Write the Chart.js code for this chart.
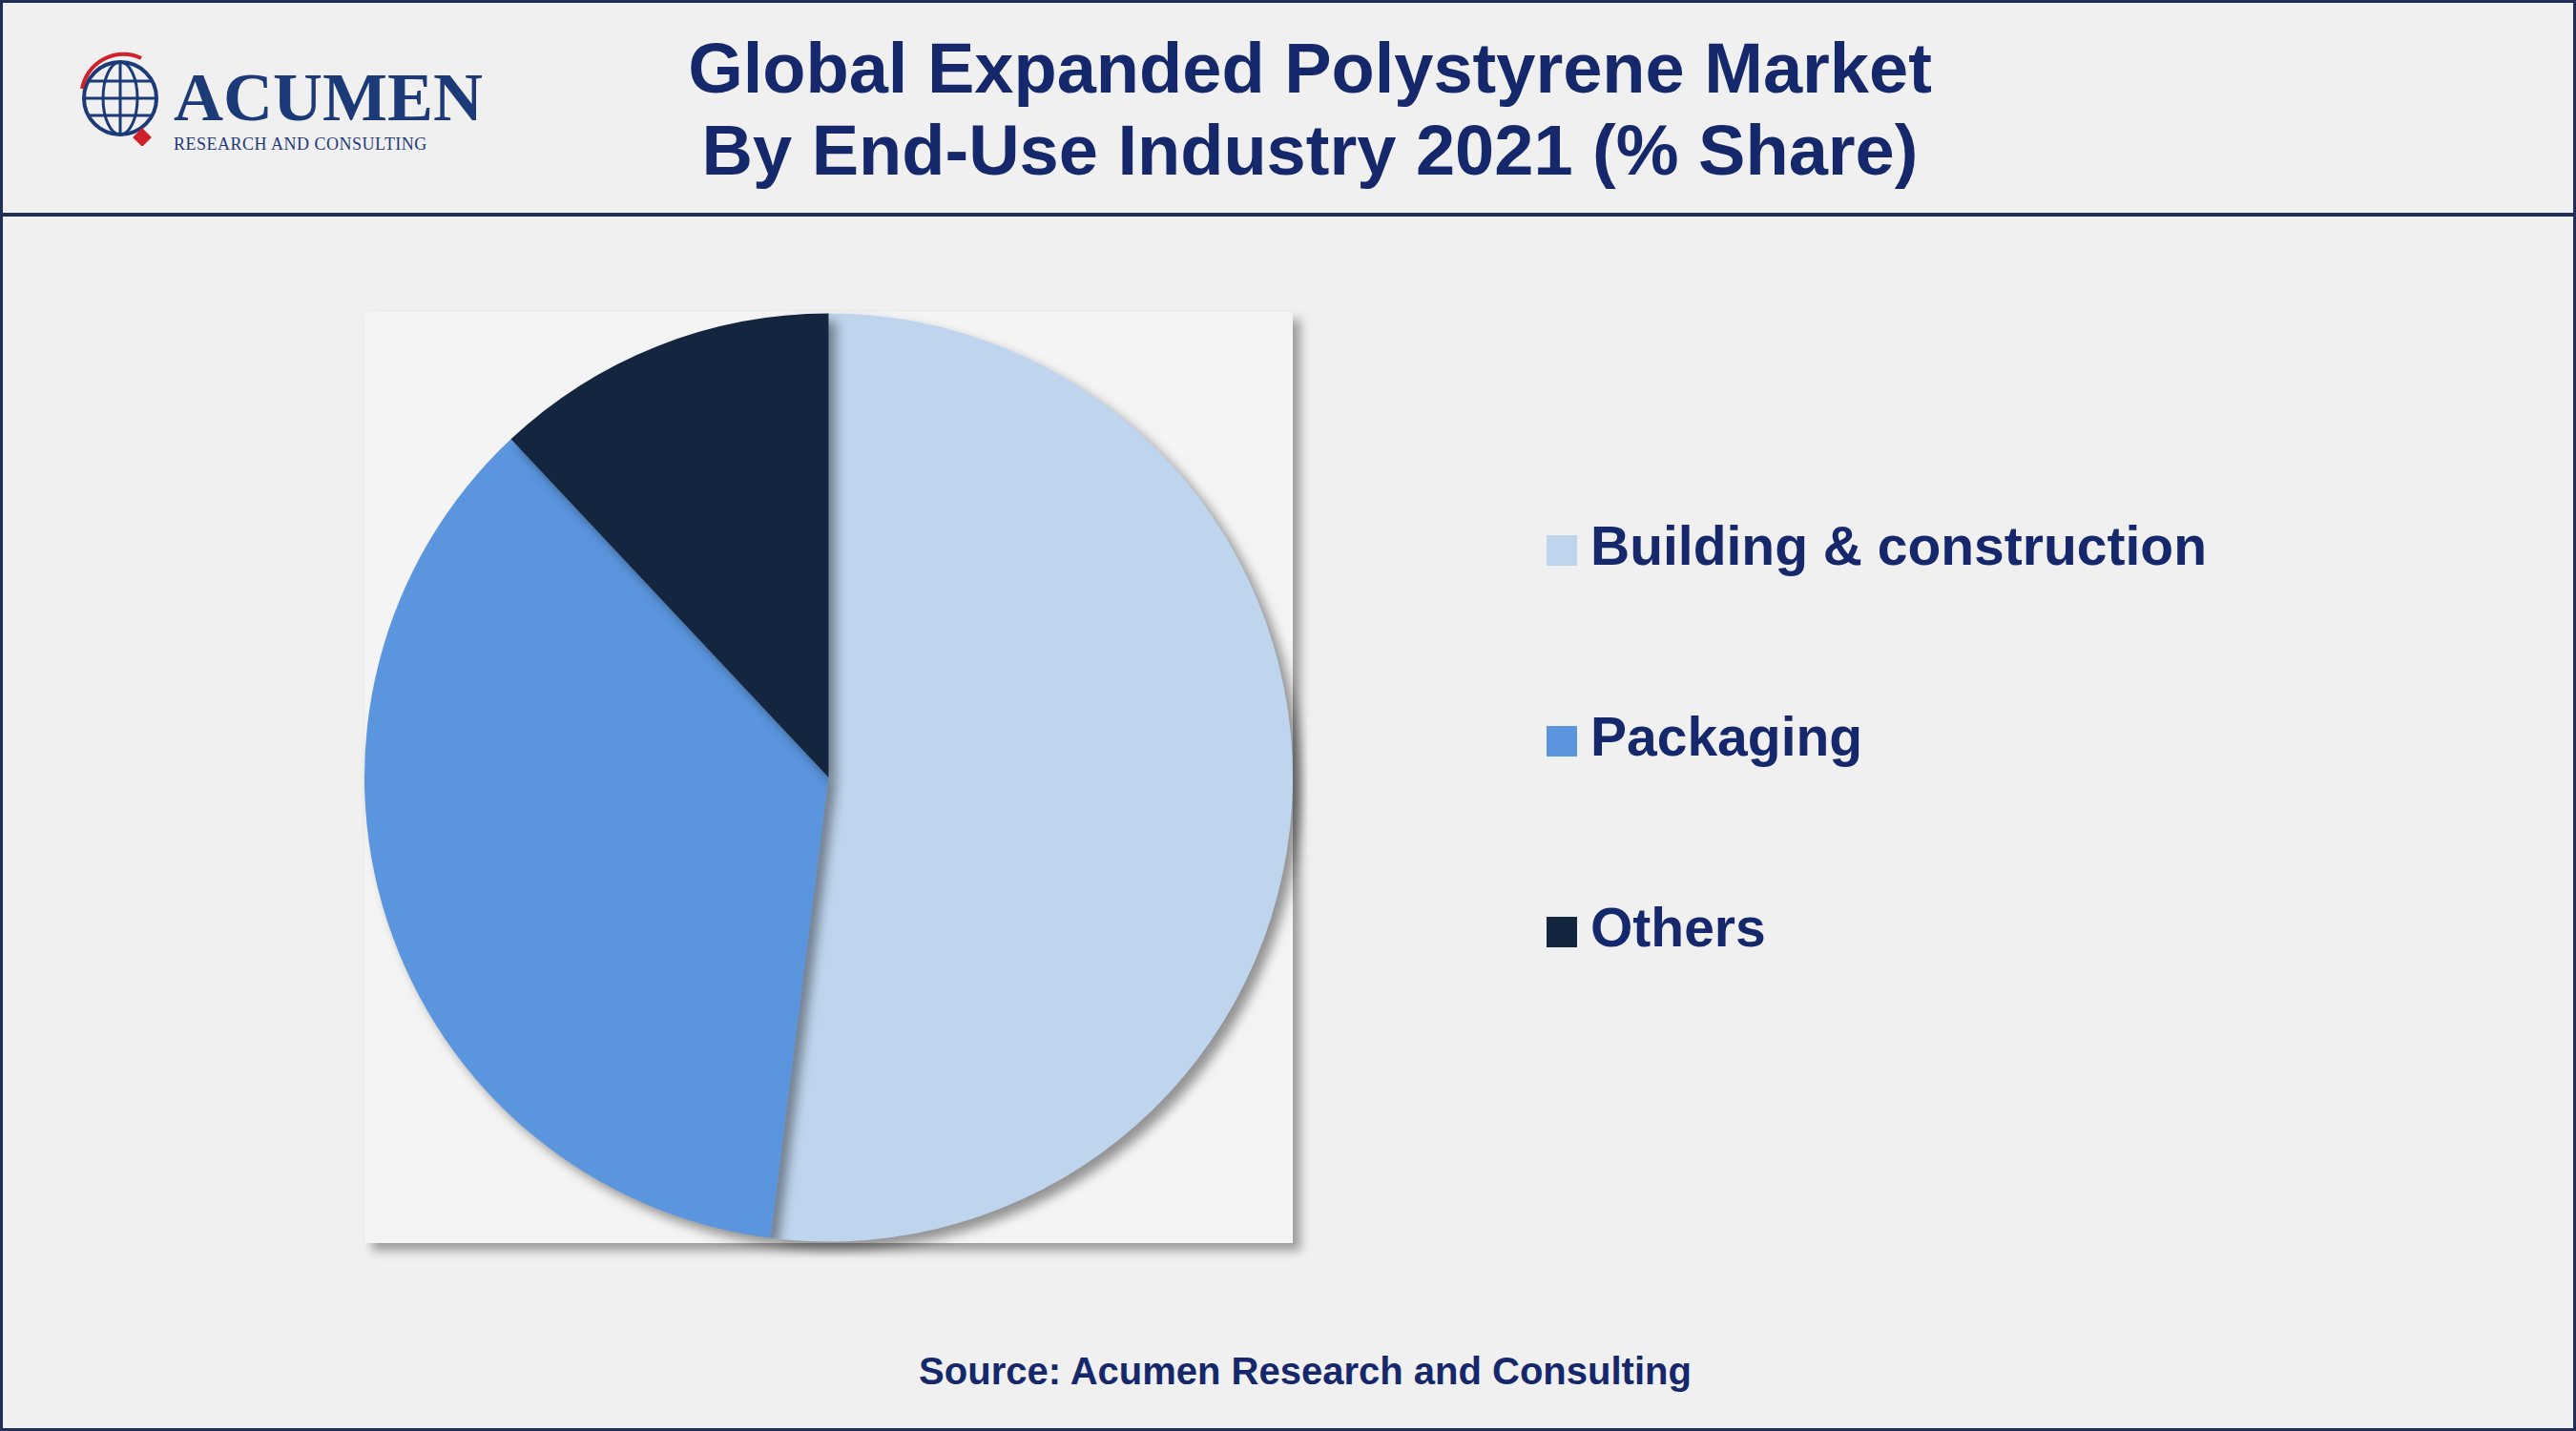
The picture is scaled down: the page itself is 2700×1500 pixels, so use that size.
<!DOCTYPE html>
<html>
<head>
<meta charset="utf-8">
<script src="https://cdn.jsdelivr.net/npm/chart.js@4"></script>
<style>
  body { margin:0; background:#f0f0f0; font-family:"Liberation Sans", Arial, sans-serif; }
  #page { position:relative; width:2700px; height:1500px; box-sizing:border-box; border:3px solid #1f2f5a; background:#f0f0f0; overflow:hidden; }
  #header { position:absolute; left:0; top:0; width:100%; height:220px; border-bottom:4px solid #1f2f5a; }
  #title { position:absolute; left:0; width:2740px; top:26px; text-align:center; color:#14286b; font-weight:bold; font-size:74px; line-height:86px; }
  #logo { position:absolute; left:75px; top:50px; }
  #logo .big { position:absolute; left:104px; top:8px; font-family:"Liberation Serif", serif; color:#1d3a78; font-size:72px; font-weight:bold; white-space:nowrap; }
  #logo .small { position:absolute; left:104px; top:88px; font-family:"Liberation Serif", serif; color:#1d3a78; font-size:18px; white-space:nowrap; letter-spacing:0.5px; }
  #plotbg { position:absolute; left:379px; top:324px; width:973px; height:976px; background:#f4f4f4; box-shadow:8px 8px 10px rgba(0,0,0,0.35); }
  #wrap { position:absolute; left:364px; top:309px; width:1003px; height:1006px; }
  #legend { position:absolute; left:1618px; top:536px; }
  .item { position:relative; height:200px; color:#14286b; font-weight:bold; font-size:57px; }
  .sw { position:absolute; left:0; top:22px; width:32px; height:32px; }
  .lab { position:absolute; left:46px; top:0; white-space:nowrap; }
  #source { position:absolute; left:0; width:2730px; top:1412px; text-align:center; color:#14286b; font-weight:bold; font-size:40px; }
</style>
</head>
<body>
<div id="page">
  <div id="header">
    <div id="logo">
      <svg width="100" height="100" viewBox="0 0 100 100">
        <circle cx="48" cy="50" r="38" fill="none" stroke="#1d3a78" stroke-width="4"/>
        <ellipse cx="48" cy="50" rx="18" ry="38" fill="none" stroke="#1d3a78" stroke-width="3"/>
        <line x1="10" y1="50" x2="86" y2="50" stroke="#1d3a78" stroke-width="3"/>
        <line x1="16" y1="32" x2="80" y2="32" stroke="#1d3a78" stroke-width="3"/>
        <line x1="16" y1="68" x2="80" y2="68" stroke="#1d3a78" stroke-width="3"/>
        <line x1="48" y1="12" x2="48" y2="88" stroke="#1d3a78" stroke-width="3"/>
        <path d="M 8 40 A 44 44 0 0 1 70 8" fill="none" stroke="#d0202a" stroke-width="4"/>
        <rect x="64" y="84" width="14" height="14" fill="#d0202a" transform="rotate(45 71 91)"/>
      </svg>
      <div class="big">ACUMEN</div>
      <div class="small">RESEARCH AND CONSULTING</div>
    </div>
    <div id="title">Global Expanded Polystyrene Market<br>By End-Use Industry 2021 (% Share)</div>
  </div>
  <div id="plotbg"></div>
  <div id="wrap"><canvas id="pie"></canvas></div>
  <div id="legend"></div>
  <div id="source">Source: Acumen Research and Consulting</div>
</div>
<script>
const labels = ['Building & construction', 'Packaging', 'Others'];
const shares = [52, 36, 12];
const colors = ['#bfd5ee', '#5b95dd', '#13253f'];

const legend = document.getElementById('legend');
labels.forEach((l, i) => {
  const d = document.createElement('div');
  d.className = 'item';
  d.innerHTML = '<span class="sw" style="background:' + colors[i] + '"></span><span class="lab">' + l + '</span>';
  legend.appendChild(d);
});

const shadow = {
  id: 'shadow',
  beforeDatasetsDraw(chart) {
    const c = chart.ctx;
    c.save();
    c.shadowColor = 'rgba(0,0,0,0.4)';
    c.shadowBlur = 12;
    c.shadowOffsetX = 8;
    c.shadowOffsetY = 8;
  },
  afterDatasetsDraw(chart) { chart.ctx.restore(); }
};

new Chart(document.getElementById('pie'), {
  type: 'pie',
  data: {
    labels: labels,
    datasets: [{ data: shares, backgroundColor: colors, borderWidth: 0 }]
  },
  options: {
    responsive: true,
    maintainAspectRatio: false,
    animation: false,
    layout: { padding: 15 },
    plugins: { legend: { display: false }, tooltip: { enabled: false } }
  },
  plugins: [shadow]
});
</script>
</body>
</html>
